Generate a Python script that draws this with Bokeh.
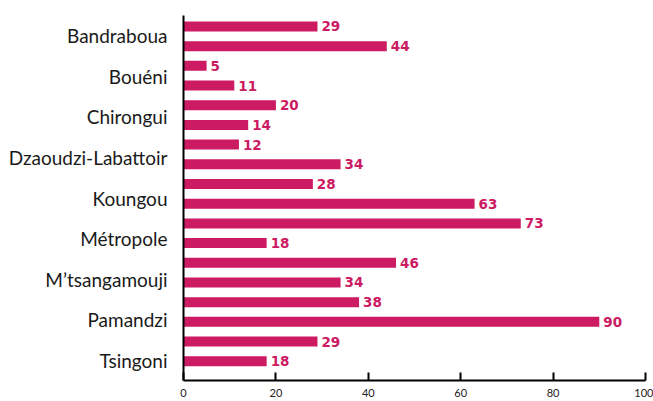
from bokeh.plotting import figure
from bokeh.models import Range1d, FixedTicker, ColumnDataSource
from bokeh.core.properties import value
from bokeh.embed import file_html
from bokeh.resources import INLINE

communes = ["Bandraboua", "Bouéni", "Chirongui", "Dzaoudzi-Labattoir", "Koungou",
            "Métropole", "M\u2019tsangamouji", "Pamandzi", "Tsingoni"]
bar_values = [29, 44, 5, 11, 20, 14, 12, 34, 28, 63, 73, 18, 46, 34, 38, 90, 29, 18]
x_ticks = [0, 20, 40, 60, 80, 100]

BAR_COLOR = "#cc1a63"

# bars are laid out evenly along the axis (in category units)
first, step = -0.23, 0.4856
ypos = [first + step * i for i in range(len(bar_values))]
src = ColumnDataSource(dict(y=ypos, v=bar_values, t=[str(v) for v in bar_values]))

p = figure(width=653, height=401, output_backend="svg", toolbar_location=None,
           x_range=Range1d(0, 100), y_range=Range1d(len(communes) - 0.5, -0.5),
           min_border_left=183, min_border_top=15, min_border_right=8, min_border_bottom=21)
p.outline_line_color = None
p.grid.grid_line_color = None
p.background_fill_color = "white"

p.hbar(y="y", left=0, right="v", height=0.246, source=src,
       fill_color=BAR_COLOR, line_color=None)
p.text(x="v", y="y", text="t", source=src, x_offset=4,
       text_baseline="middle", text_align="left",
       text_font=value("DejaVu Sans"), text_font_style="bold", text_font_size="13.5px",
       text_color=BAR_COLOR)

xa = p.xaxis[0]
xa.ticker = FixedTicker(ticks=x_ticks)
xa.axis_line_color = "black"
xa.axis_line_width = 2
xa.major_tick_in = 8
xa.major_tick_out = 0
xa.major_tick_line_width = 2
xa.major_tick_line_color = "black"
xa.minor_tick_line_color = None
xa.major_label_text_font = "Lato"
xa.major_label_text_font_size = "11px"
xa.major_label_text_color = "#222222"
xa.major_label_standoff = 8

ya = p.yaxis[0]
ya.ticker = FixedTicker(ticks=list(range(len(communes))))
ya.major_label_overrides = {i: c for i, c in enumerate(communes)}
ya.axis_line_color = "black"
ya.axis_line_width = 2
ya.major_tick_line_color = None
ya.minor_tick_line_color = None
ya.major_label_text_font = "Lato"
ya.major_label_text_font_size = "19px"
ya.major_label_text_color = "#1a1a1a"
ya.major_label_standoff = 10

open("out.html", "w").write(file_html(p, INLINE))
